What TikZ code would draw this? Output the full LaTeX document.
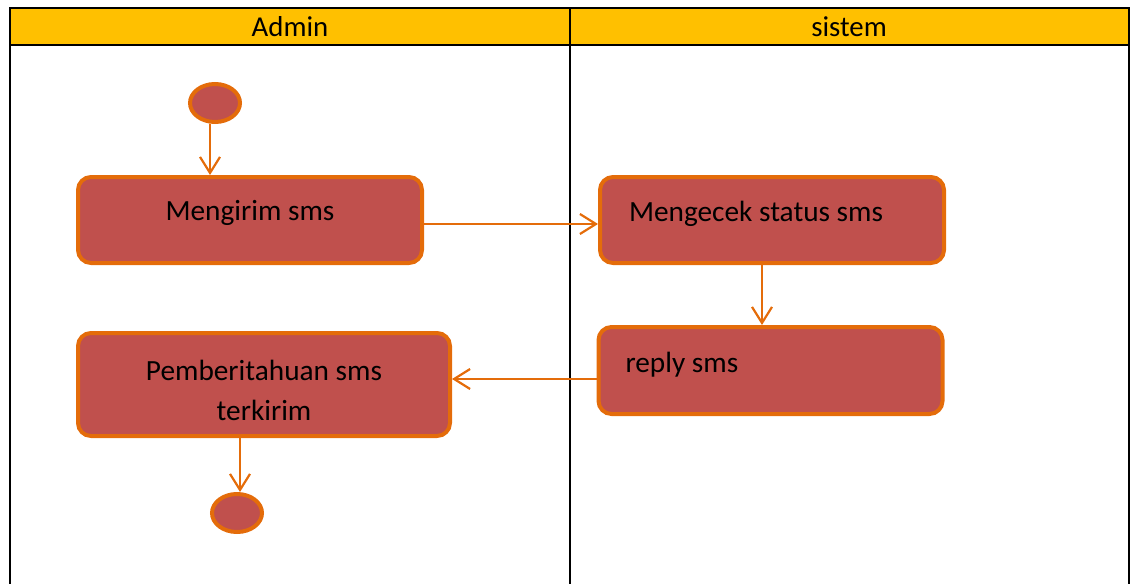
\documentclass[tikz,border=0pt]{standalone}
\usepackage{fontspec}
\setmainfont{Carlito}
\usetikzlibrary{arrows.meta,shapes.geometric}
\definecolor{lanehead}{HTML}{FFC000}
\definecolor{actfill}{HTML}{C0504D}
\definecolor{actline}{HTML}{E46C0A}
\tikzset{
  lanerule/.style={line width=2pt, black},
  activity/.style={rectangle, rounded corners=13pt, draw=actline, fill=actfill,
    line width=4pt, inner sep=0pt, text height=20pt, text depth=20pt,
    font=\fontsize{29.3}{40}\selectfont},
  terminal/.style={ellipse, draw=actline, fill=actfill, line width=4pt,
    minimum width=50pt, minimum height=38pt, inner sep=0pt},
  flow/.style={draw=actline, line width=2.2pt,
    -{Straight Barb[length=16pt,width=20pt,line width=2.2pt]}},
  lanetitle/.style={font=\fontsize{28.8}{34}\selectfont, inner sep=0pt}
}
\begin{document}
\begin{tikzpicture}[x=1pt, y=-1pt]
\useasboundingbox (0,0) rectangle (1131,583);
% swimlane frame
\fill[lanehead] (10,8) rectangle (1129,45);
\draw[lanerule] (10,590) -- (10,8) -- (1129,8) -- (1129,590);
\draw[lanerule] (10,45) -- (1129,45);
\draw[lanerule] (570,8) -- (570,590);
\node[lanetitle] (laneA) at (290,27) {Admin};
\node[lanetitle] (laneS) at (849,27) {sistem};

% activities
\node[terminal] (start) at (215,103) {};
\node[activity, minimum width=344pt, minimum height=86pt] (kirim) at (250,220) {Mengirim sms};
\node[activity, minimum width=344pt, minimum height=86pt, text width=286pt,
  align=flush left, text depth=18pt] (cek) at (772,220) {Mengecek status sms};
\node[activity, minimum width=344pt, minimum height=87pt, text width=290pt,
  align=flush left, text depth=16pt] (reply) at (770.5,370.5) {reply sms};
\node[activity, minimum width=372pt, minimum height=103pt, text width=300pt,
  align=flush center, text height=20pt, text depth=28pt] (info) at (264,384.5)
  {Pemberitahuan sms\\terkirim};
\node[terminal] (stop) at (237,513) {};

% control flow
\draw[flow] (start.south -| 210,0) -- (kirim.north -| 210,0);
\draw[flow] (kirim.east |- 0,224) -- (cek.west |- 0,224);
\draw[flow] (cek.south -| 762,0) -- (reply.north -| 762,0);
\draw[flow] (reply.west |- 0,379) -- (info.east |- 0,379);
\draw[flow] (info.south -| 240,0) -- (stop.north -| 240,0);
\end{tikzpicture}
\end{document}
